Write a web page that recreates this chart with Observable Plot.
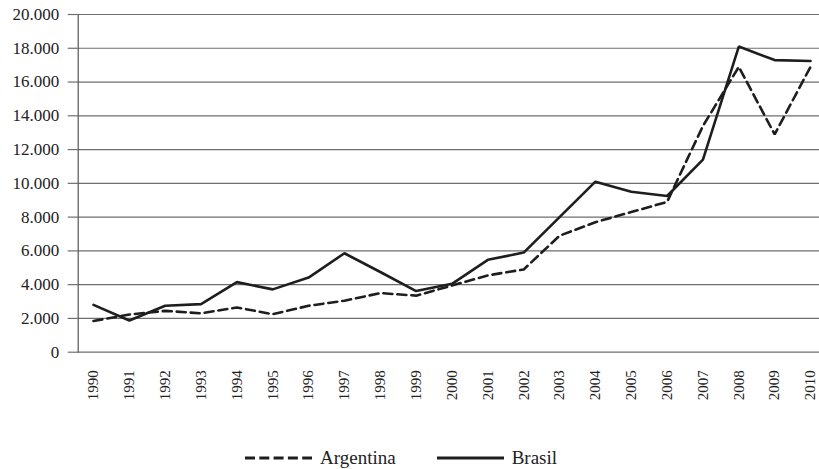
<!DOCTYPE html>
<html>
<head>
<meta charset="utf-8">
<script src="https://cdn.jsdelivr.net/npm/d3@7"></script>
<script src="https://cdn.jsdelivr.net/npm/@observablehq/plot@0.6"></script>
<style>
  html, body { margin: 0; padding: 0; background: #fff; }
  body { width: 819px; height: 469px; overflow: hidden; font-family: "Liberation Serif", "Times New Roman", Tinos, "DejaVu Serif", serif; }
  #legend { display: flex; justify-content: flex-start; align-items: center; height: 22px; margin-top: 7px; padding-left: 245px; font-size: 19px; color: #222; }
  #legend .item { display: flex; align-items: center; }
  #legend svg { display: block; }
</style>
</head>
<body>
<div id="chart"></div>
<div id="legend"></div>
<script>
const years = [1990,1991,1992,1993,1994,1995,1996,1997,1998,1999,2000,2001,2002,2003,2004,2005,2006,2007,2008,2009,2010];
const argentina = [1850,2230,2450,2300,2650,2250,2750,3050,3500,3350,3950,4550,4900,6900,7700,8300,8900,13400,16900,12900,16900];
const brasil = [2800,1880,2750,2850,4150,3720,4420,5860,4750,3620,4050,5470,5900,8000,10100,9500,9250,11400,18100,17300,17250];
const yTicks = [0,2000,4000,6000,8000,10000,12000,14000,16000,18000,20000];
const seriesNames = ["Argentina", "Brasil"];

const rowsA = years.map((y, i) => ({year: String(y), value: argentina[i]}));
const rowsB = years.map((y, i) => ({year: String(y), value: brasil[i]}));

const fmt = d3.formatLocale({decimal: ",", thousands: ".", grouping: [3], currency: ["", ""]}).format(",");
const FONT = '"Liberation Serif", "Times New Roman", Tinos, "DejaVu Serif", serif';

const chart = Plot.plot({
  width: 819,
  height: 440,
  marginLeft: 77.7,
  marginRight: 0,
  marginTop: 14,
  marginBottom: 88.3,
  style: {fontFamily: FONT, color: "#222", background: "#fff"},
  x: {type: "point", domain: years.map(String), range: [93, 810], padding: 0, round: false, label: null},
  y: {domain: [0, 20000], ticks: yTicks, label: null},
  marks: [
    Plot.gridY(yTicks, {stroke: "#6e6e6e", strokeOpacity: 1, strokeWidth: 1.2}),
    Plot.axisY(yTicks, {tickSize: 10, tickPadding: 9, tickFormat: fmt, fontSize: 17, stroke: "#6e6e6e", strokeWidth: 1.2, label: null}),
    Plot.axisX({tickSize: 0, tickPadding: 18, tickRotate: -90, fontSize: 15, label: null}),
    Plot.frame({anchor: "left", stroke: "#555", strokeWidth: 1.2}),
    Plot.line(rowsA, {x: "year", y: "value", stroke: "#1e1e1e", strokeWidth: 2.6, strokeDasharray: "9,5", strokeLinejoin: "miter"}),
    Plot.line(rowsB, {x: "year", y: "value", stroke: "#1e1e1e", strokeWidth: 2.6, strokeLinejoin: "miter"})
  ]
});
chart.querySelectorAll("text").forEach(t => t.setAttribute("font-family", FONT));
document.getElementById("chart").appendChild(chart);

const legend = document.getElementById("legend");
seriesNames.forEach((name, i) => {
  const item = document.createElement("div");
  item.className = "item";
  item.style.marginRight = i === 0 ? "41px" : "0";
  const ns = "http://www.w3.org/2000/svg";
  const s = document.createElementNS(ns, "svg");
  s.setAttribute("width", "67");
  s.setAttribute("height", "10");
  const l = document.createElementNS(ns, "line");
  l.setAttribute("x1", "0"); l.setAttribute("x2", "67");
  l.setAttribute("y1", "5"); l.setAttribute("y2", "5");
  l.setAttribute("stroke", "#1e1e1e");
  l.setAttribute("stroke-width", "3");
  if (i === 0) l.setAttribute("stroke-dasharray", "10,4.3");
  s.appendChild(l);
  item.appendChild(s);
  const t = document.createElement("span");
  t.textContent = name;
  t.style.marginLeft = "8px";
  item.appendChild(t);
  legend.appendChild(item);
});
</script>
</body>
</html>
